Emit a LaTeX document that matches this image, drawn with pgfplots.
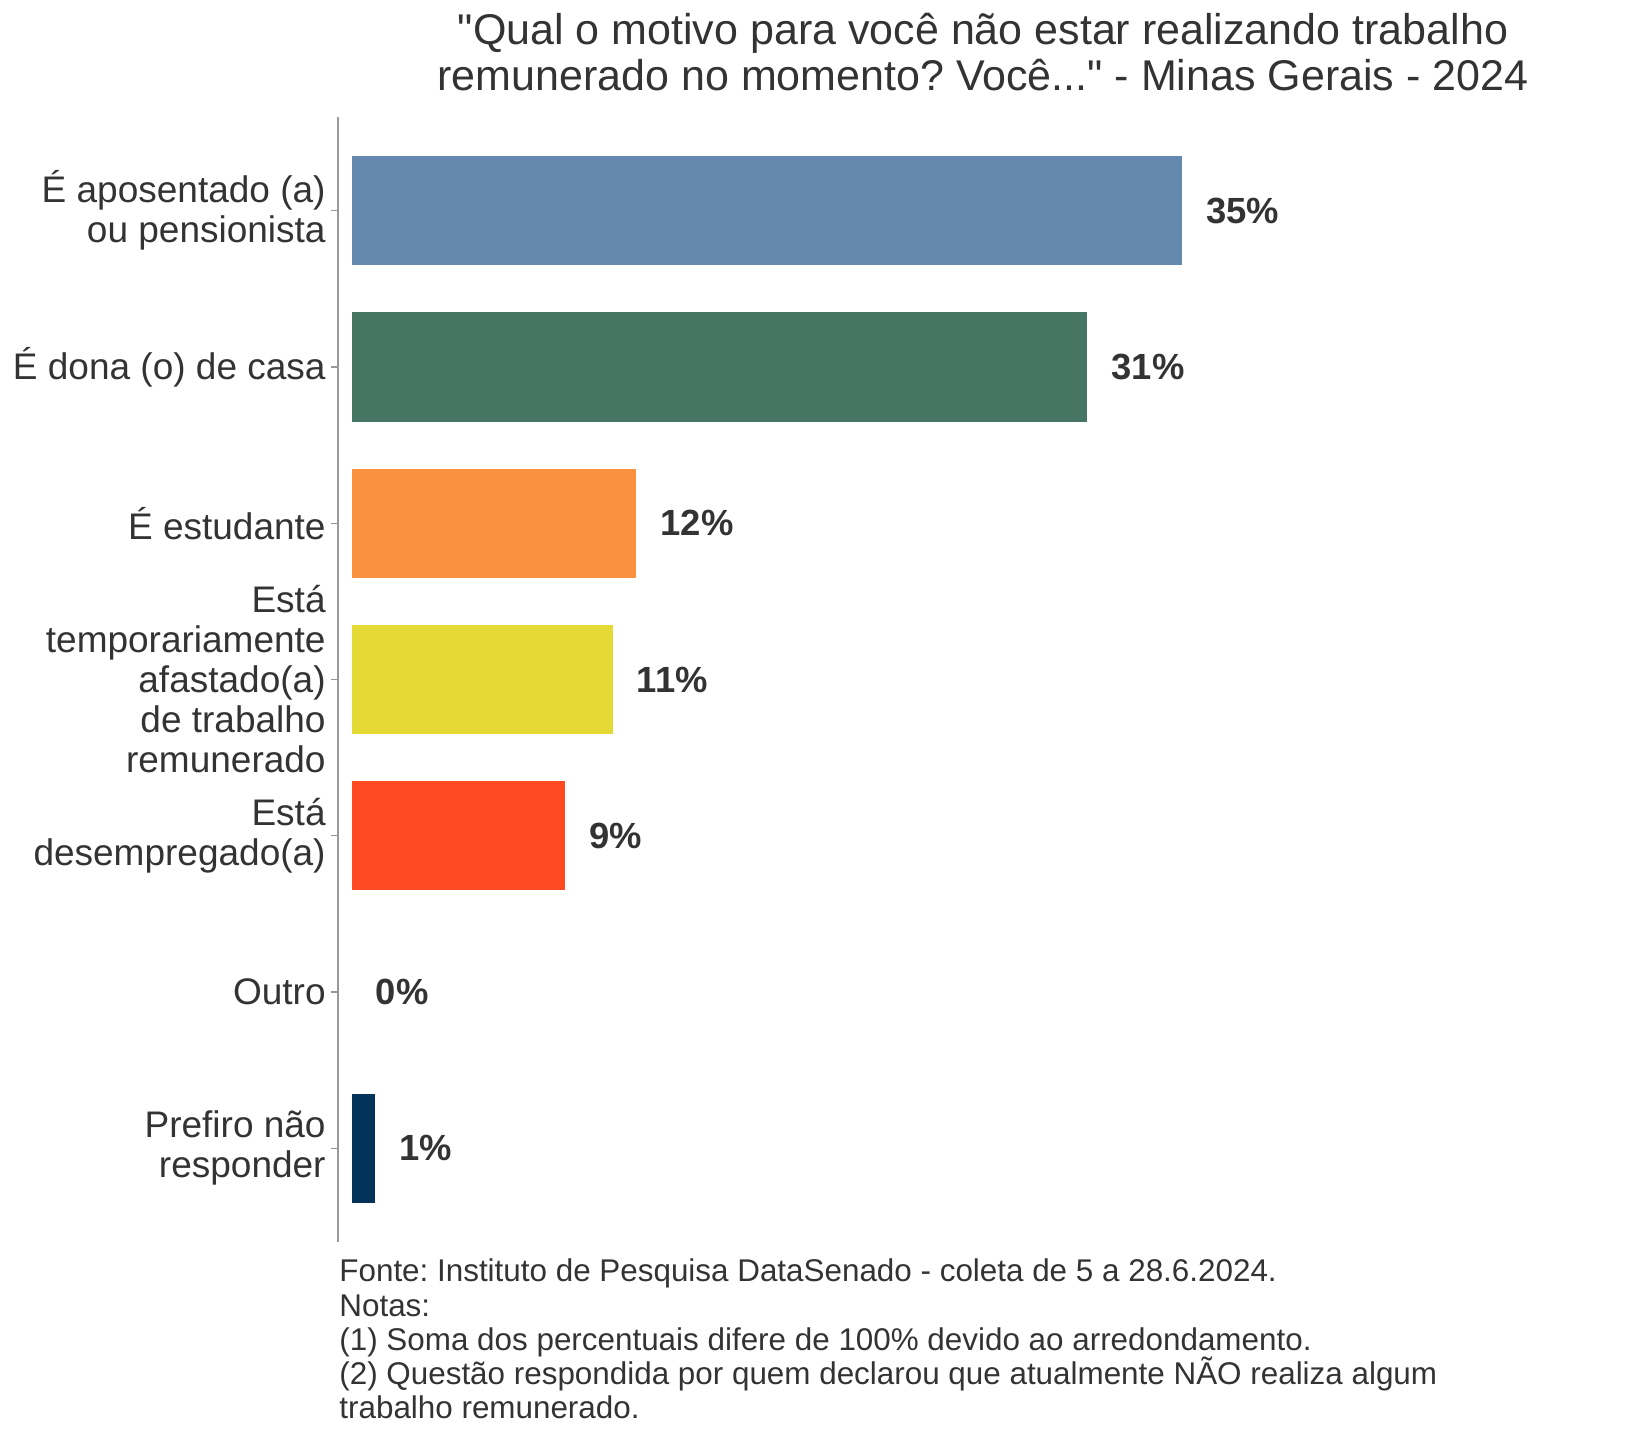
\documentclass[border=0pt]{standalone}
\usepackage{fontspec}
\setmainfont{Liberation Sans}
\newfontfamily\qfont{Liberation Sans}
\usepackage{pgfplots}
\pgfplotsset{compat=1.18}
\frenchspacing
\definecolor{txt}{HTML}{333333}
\definecolor{axl}{HTML}{999999}
\definecolor{c1}{HTML}{6588AF}
\definecolor{c2}{HTML}{467563}
\definecolor{c3}{HTML}{FA913E}
\definecolor{c4}{HTML}{E5D935}
\definecolor{c5}{HTML}{FF4A22}
\definecolor{c7}{HTML}{033359}
\begin{document}
\frenchspacing
\begin{tikzpicture}
\useasboundingbox (0,0) rectangle (816pt,720pt);
\begin{axis}[
  at={(169pt,661.5pt)}, anchor=north west,
  scale only axis, width=644.5pt, height=562.5pt,
  xbar, bar width=0.7, bar shift=0pt,
  xmin=-0.57, xmax=53.75, ymin=0.4, ymax=7.6, y dir=reverse,
  axis x line=none, axis y line=left,
  axis line style={-, draw=axl, line width=0.9pt},
  ytick={1,2,3,4,5,6,7},
  yticklabels={{É aposentado (a)\\ou pensionista},{É dona (o) de casa},{É estudante},{Está\\temporariamente\\afastado(a)\\de trabalho\\remunerado},{Está\\desempregado(a)},{Outro},{Prefiro não\\responder}},
  tick align=outside, major tick length=3.5pt,
  tick style={draw=axl, line width=0.6pt},
  yticklabel style={align=right, font=\fontsize{18.5}{20}\selectfont, text=txt, inner sep=0pt, xshift=-2.5pt},
  nodes near coords, point meta=explicit symbolic,
  nodes near coords style={anchor=west, inner sep=0pt, xshift=12pt, font=\fontsize{18.2}{22}\selectfont\bfseries, text=txt},
  clip=false,
]
\addplot[fill=c1, draw=none] coordinates {(35,1) [35\%]};
\addplot[fill=c2, draw=none] coordinates {(31,2) [31\%]};
\addplot[fill=c3, draw=none] coordinates {(12,3) [12\%]};
\addplot[fill=c4, draw=none] coordinates {(11,4) [11\%]};
\addplot[fill=c5, draw=none] coordinates {(9,5) [9\%]};
\addplot[fill=none, draw=none] coordinates {(0,6) [0\%]};
\addplot[fill=c7, draw=none] coordinates {(1,7) [1\%]};
\end{axis}
\begin{scope}[every node/.style={text=txt, inner sep=0pt}]
\node[anchor=base, font=\fontsize{21.5}{25}\selectfont] at (491.5pt,697.5pt) {{\qfont"}Qual o motivo para você não estar realizando trabalho};
\node[anchor=base, font=\fontsize{21.5}{25}\selectfont] at (491.5pt,674.5pt) {remunerado no momento? Você...{\qfont"} - Minas Gerais - 2024};
\node[anchor=base west, font=\fontsize{15.7}{18}\selectfont] at (169.5pt,79pt) {Fonte: Instituto de Pesquisa DataSenado - coleta de 5 a 28.6.2024.};
\node[anchor=base west, font=\fontsize{15.7}{18}\selectfont] at (169.5pt,62pt) {Notas:};
\node[anchor=base west, font=\fontsize{15.7}{18}\selectfont] at (169.5pt,45pt) {(1) Soma dos percentuais difere de 100\% devido ao arredondamento.};
\node[anchor=base west, font=\fontsize{15.7}{18}\selectfont] at (169.5pt,28pt) {(2) Questão respondida por quem declarou que atualmente NÃO realiza algum};
\node[anchor=base west, font=\fontsize{15.7}{18}\selectfont] at (169.5pt,11pt) {trabalho remunerado.};
\end{scope}
\end{tikzpicture}
\end{document}
